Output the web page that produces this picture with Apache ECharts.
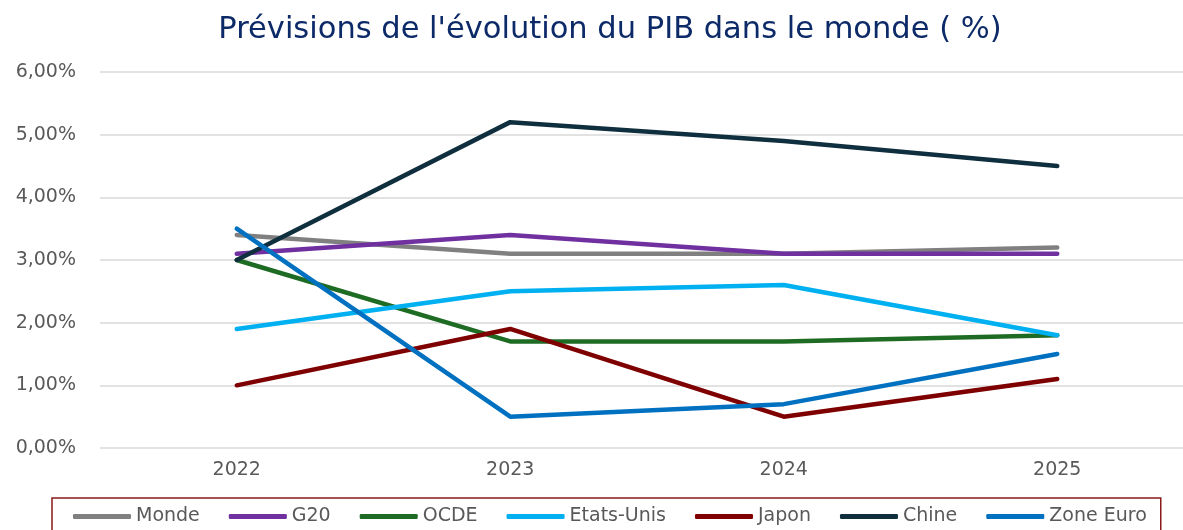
<!DOCTYPE html>
<html>
<head>
<meta charset="utf-8">
<script src="https://cdn.jsdelivr.net/npm/echarts@6/dist/echarts.min.js"></script>
<style>
  html, body { margin: 0; padding: 0; background: #fff; overflow: hidden; }
  #chartmain { width: 1195px; height: 530px; }
</style>
</head>
<body>
<div id="chartmain"></div>
<script>
// données
var annees = ['2022', '2023', '2024', '2025'];
var monde = [3.4, 3.1, 3.1, 3.2];
var g20 = [3.1, 3.4, 3.1, 3.1];
var ocde = [3.0, 1.7, 1.7, 1.8];
var etatsUnis = [1.9, 2.5, 2.6, 1.8];
var japon = [1.0, 1.9, 0.5, 1.1];
var chine = [3.0, 5.2, 4.9, 4.5];
var zoneEuro = [3.5, 0.5, 0.7, 1.5];

var noms = ['Monde', 'G20', 'OCDE', 'Etats-Unis', 'Japon', 'Chine', 'Zone Euro'];
var valeurs = [monde, g20, ocde, etatsUnis, japon, chine, zoneEuro];
var couleurs = ['#808080', '#7030a0', '#1e6b24', '#00b0f0', '#7f0000', '#0f2f3f', '#0070c0'];

var chart = echarts.init(document.getElementById('chartmain'));

var series = noms.map(function (nom, i) {
    return {
        name: nom,
        type: 'line',
        data: valeurs[i],
        symbol: 'none',
        lineStyle: { width: 4.5, cap: 'round', join: 'round' }
    };
});

option = {
    animation: false,
    color: couleurs,
    title: {
        text: "Prévisions de l'évolution du PIB dans le monde ( %)",
        left: 605,
        textAlign: 'center',
        top: 10,
        textStyle: {
            color: '#0d2a68',
            fontFamily: 'DejaVu Sans',
            fontWeight: 'normal',
            fontSize: 30.5
        }
    },
    legend: {
        data: noms,
        left: 52,
        top: 498,
        padding: [9, 14, 16, 21],
        borderColor: '#8b1a1a',
        borderWidth: 1.5,
        icon: 'roundRect',
        itemWidth: 58,
        itemHeight: 5,
        itemGap: 29,
        textStyle: {
            color: '#595959',
            fontFamily: 'DejaVu Sans',
            fontSize: 19
        }
    },
    grid: {
        left: 100,
        right: 1,
        top: 72,
        bottom: 82
    },
    xAxis: {
        type: 'category',
        data: annees,
        axisLine: { show: false },
        axisTick: { show: false },
        axisLabel: {
            color: '#595959',
            fontFamily: 'DejaVu Sans',
            fontSize: 19,
            margin: 13
        }
    },
    yAxis: {
        type: 'value',
        min: 0,
        max: 6,
        interval: 1,
        axisLabel: {
            color: '#595959',
            fontFamily: 'DejaVu Sans',
            fontSize: 19,
            margin: 24,
            formatter: function (v) { return v.toFixed(2).replace('.', ',') + '%'; }
        },
        splitLine: { lineStyle: { color: '#d9d9d9', width: 1.5 } }
    },
    series: series
};

chart.setOption(option);
</script>
</body>
</html>
